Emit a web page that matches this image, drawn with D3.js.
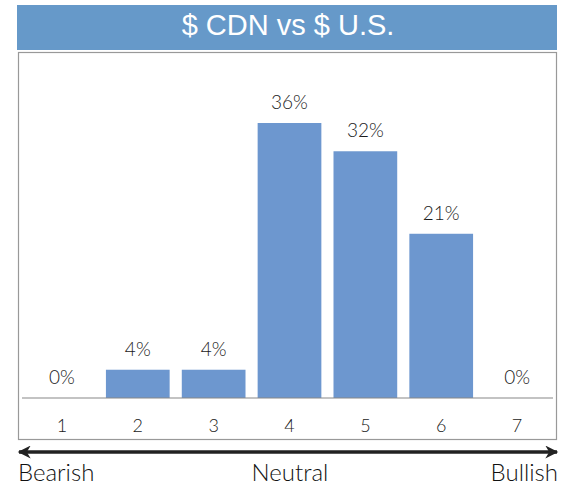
<!DOCTYPE html>
<html lang="en">
<head>
<meta charset="UTF-8">
<title>$ CDN vs $ U.S.</title>
<script src="https://cdn.jsdelivr.net/npm/d3@7"></script>
<style>
  body { margin: 0; background: #fff; }
</style>
</head>
<body>
<svg id="chart" width="566" height="492"></svg>
<script>
    // categories 1..7 on the bearish -> bullish scale
    var categories = ["1", "2", "3", "4", "5", "6", "7"];
    // share of responses (%)
    var values = [0, 3.7, 3.7, 36, 32.3, 21.5, 0];
    var valueLabels = ["0%", "4%", "4%", "36%", "32%", "21%", "0%"];
    var scaleLabels = ["Bearish", "Neutral", "Bullish"];
    var title = "$ CDN vs $ U.S.";

    var svg = d3.select("#chart");
    var labelFont = "Lato, 'Open Sans', sans-serif";

    // title bar
    svg.append("rect")
        .attr("x", 17).attr("y", 5)
        .attr("width", 540).attr("height", 45)
        .attr("fill", "#6699c9");
    svg.append("text")
        .attr("x", 288).attr("y", 35)
        .attr("text-anchor", "middle")
        .attr("fill", "#fff")
        .attr("font-family", "'Liberation Sans', Arial, sans-serif")
        .attr("font-size", 29)
        .text(title);

    // frame
    svg.append("rect")
        .attr("x", 18.5).attr("y", 52.5)
        .attr("width", 538).attr("height", 387)
        .attr("fill", "none")
        .attr("stroke", "#999")
        .attr("stroke-width", 1.2);

    var x = d3.scaleBand()
        .domain(categories)
        .range([24, 555])
        .paddingInner(0.16)
        .paddingOuter(0.08);

    var y = d3.scaleLinear()
        .domain([0, 36])
        .range([398, 123]);

    svg.selectAll(".bar")
        .data(values)
        .enter().append("rect")
        .attr("class", "bar")
        .attr("x", function(d, i){ return x(categories[i]); })
        .attr("y", function(d){ return y(d); })
        .attr("width", x.bandwidth())
        .attr("height", function(d){ return y(0) - y(d); })
        .attr("fill", "#6d97cf");

    // baseline
    svg.append("line")
        .attr("x1", 22).attr("x2", 553)
        .attr("y1", y(0)).attr("y2", y(0))
        .attr("stroke", "#888")
        .attr("stroke-width", 1.2);

    svg.selectAll(".val")
        .data(values)
        .enter().append("text")
        .attr("class", "val")
        .attr("x", function(d, i){ return x(categories[i]) + x.bandwidth() / 2; })
        .attr("y", function(d){ return y(d) - 14; })
        .attr("text-anchor", "middle")
        .attr("fill", "#1a1a1a")
        .attr("font-family", labelFont)
        .attr("font-weight", 300)
        .attr("font-size", 19)
        .text(function(d, i){ return valueLabels[i]; });

    // category axis
    var axis = svg.append("g")
        .attr("transform", "translate(0," + y(0) + ")")
        .call(d3.axisBottom(x).tickSize(0).tickPadding(21));
    axis.select(".domain").remove();
    axis.selectAll("text")
        .attr("fill", "#1a1a1a")
        .attr("font-family", labelFont)
        .attr("font-weight", 300)
        .attr("font-size", 18);

    // bearish <-> bullish arrow
    var defs = svg.append("defs");
    defs.append("marker")
        .attr("id", "head")
        .attr("viewBox", "0 0 10 10")
        .attr("refX", 9).attr("refY", 5)
        .attr("markerWidth", 24).attr("markerHeight", 13)
        .attr("markerUnits", "userSpaceOnUse")
        .attr("orient", "auto-start-reverse")
        .append("path")
        .attr("d", "M0,0 L10,5 L0,10 L3,5 Z")
        .attr("fill", "#222");
    svg.append("line")
        .attr("x1", 19).attr("x2", 557)
        .attr("y1", 452).attr("y2", 452)
        .attr("stroke", "#222")
        .attr("stroke-width", 3.5)
        .attr("marker-start", "url(#head)")
        .attr("marker-end", "url(#head)");

    var anchors = ["start", "middle", "end"];
    var xs = [18, 290, 558];
    svg.selectAll(".scale")
        .data(scaleLabels)
        .enter().append("text")
        .attr("class", "scale")
        .attr("x", function(d, i){ return xs[i]; })
        .attr("y", 481)
        .attr("text-anchor", function(d, i){ return anchors[i]; })
        .attr("fill", "#111")
        .attr("font-family", labelFont)
        .attr("font-weight", 300)
        .attr("font-size", 24)
        .text(function(d){ return d; });
</script>
</body>
</html>
